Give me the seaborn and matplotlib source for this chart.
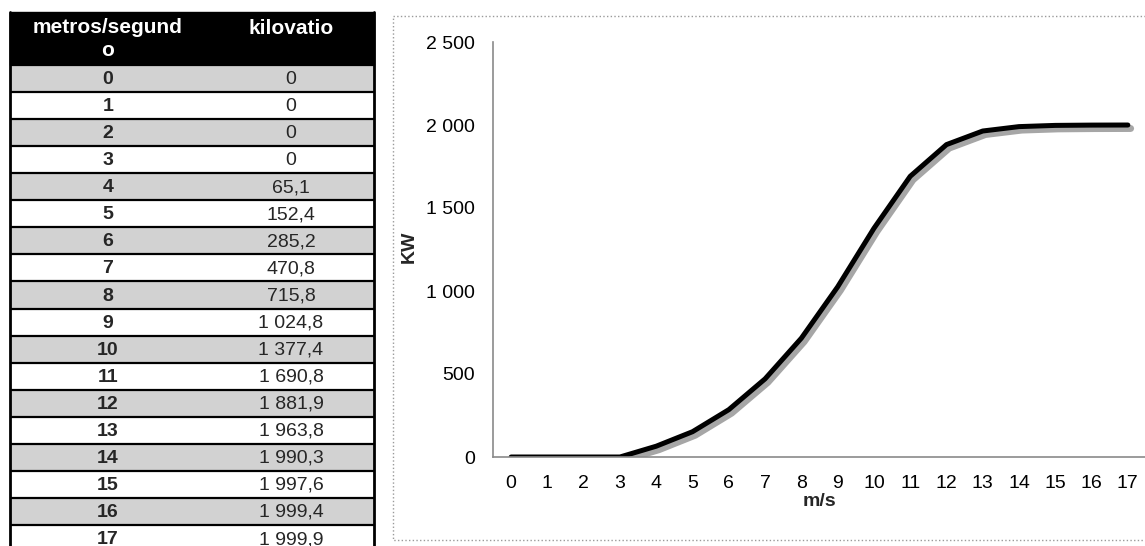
import matplotlib
matplotlib.use("Agg")
import matplotlib.pyplot as plt
import matplotlib.patheffects as pe
from matplotlib.patches import Rectangle
from matplotlib.ticker import FuncFormatter
import seaborn as sns

# Wind turbine power curve: wind speed (m/s) vs. output (kW)
speed = list(range(18))
power = [0, 0, 0, 0, 65.1, 152.4, 285.2, 470.8, 715.8, 1024.8,
         1377.4, 1690.8, 1881.9, 1963.8, 1990.3, 1997.6, 1999.4, 1999.9]
header = ["metros/segund\no", "kilovatio"]
x_label = "m/s"
y_label = "KW"
y_ticks = [0, 500, 1000, 1500, 2000, 2500]

sns.set_theme(style="white")
plt.rcParams["font.family"] = ["Liberation Sans", "DejaVu Sans"]


def es_number(v, decimals=1):
    """Spanish style: space as thousands separator, comma as decimal mark."""
    if v == 0:
        return "0"
    s = f"{v:,.{decimals}f}"
    return s.replace(",", " ").replace(".", ",")


W, H = 1145, 546
fig = plt.figure(figsize=(W / 100, H / 100), dpi=100)
fig.patch.set_facecolor("white")

# ---- data table on the left (pixel coordinate canvas) ----
tab = fig.add_axes([0, 0, 1, 1])
tab.set_xlim(0, W)
tab.set_ylim(H, 0)
tab.axis("off")

tab_l, tab_r = 10, 374
head_t, head_b = 12, 65
row_h = 27.06
col1_x, col2_x = 108, 291
fs = 14

tab.add_patch(Rectangle((tab_l, head_t), tab_r - tab_l, head_b - head_t,
                        facecolor="black", edgecolor="black", lw=1))
tab.text(col1_x, 39, header[0], color="white", fontsize=15, fontweight="bold",
         ha="center", va="center", linespacing=1.3)
tab.text(col2_x, 28, header[1], color="white", fontsize=15, fontweight="bold",
         ha="center", va="center")

for i, (s, p) in enumerate(zip(speed, power)):
    top = head_b + i * row_h
    face = "#d2d2d2" if i % 2 == 0 else "white"
    tab.add_patch(Rectangle((tab_l, top), tab_r - tab_l, row_h,
                            facecolor=face, edgecolor="none", lw=0))
    tab.plot([tab_l, tab_r], [top, top], color="black", lw=1.6, solid_capstyle="butt")
    cy = top + row_h / 2 + 1
    tab.text(col1_x, cy, str(s), fontsize=fs, fontweight="bold", ha="center", va="center")
    tab.text(col2_x, cy, es_number(p), fontsize=fs, ha="center", va="center")

tab.plot([tab_l, tab_l], [head_t, H], color="black", lw=2)
tab.plot([tab_r, tab_r], [head_t, H], color="black", lw=2)

# chart frame
tab.add_patch(Rectangle((393, 16), 770, 524, fill=False, edgecolor="#9a9a9a",
                        lw=1, ls=":"))

# ---- power curve chart ----
ax_l, ax_r, ax_t, ax_b = 493, 1146, 42, 457
ax = fig.add_axes([ax_l / W, (H - ax_b) / H, (ax_r - ax_l) / W, (ax_b - ax_t) / H])
ax.patch.set_visible(False)

sns.lineplot(x=speed, y=power, ax=ax, color="black", linewidth=3.6,
             path_effects=[pe.SimpleLineShadow(offset=(2, -2.5), shadow_color="#a6a6a6",
                                               alpha=1.0, linewidth=5),
                           pe.Normal()])

ax.set_xlim(-0.5, 17.5)
ax.set_ylim(0, 2500)
ax.set_xticks(speed)
ax.set_yticks(y_ticks)
ax.yaxis.set_major_formatter(FuncFormatter(lambda v, _: es_number(v, 0)))
ax.grid(False)

for side in ("top", "right"):
    ax.spines[side].set_visible(False)
for side in ("left", "bottom"):
    ax.spines[side].set_color("#8a8a8a")
    ax.spines[side].set_linewidth(1.2)

ax.tick_params(axis="both", length=0, labelsize=fs, colors="black")
ax.tick_params(axis="x", pad=13)
ax.tick_params(axis="y", pad=13)

ax.set_xlabel(x_label, fontsize=fs, fontweight="bold", va="center")
ax.set_ylabel(y_label, fontsize=fs, fontweight="bold", va="center")
ax.xaxis.set_label_coords(0.5, (ax_b - 502) / (ax_b - ax_t))
ax.yaxis.set_label_coords((409 - ax_l) / (ax_r - ax_l), (ax_b - 247) / (ax_b - ax_t))

fig.savefig("out.png", dpi=100, facecolor="white")
